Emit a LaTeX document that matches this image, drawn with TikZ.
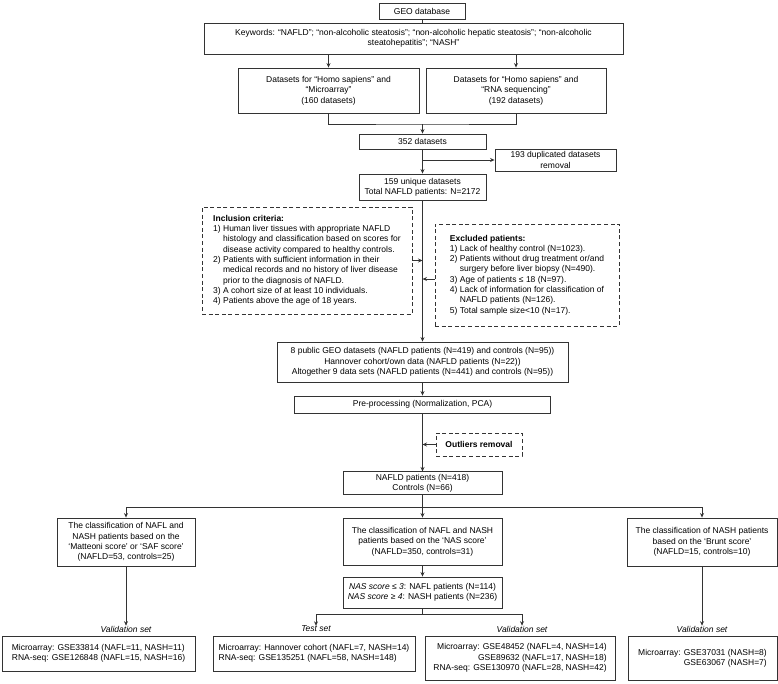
\documentclass[tikz,border=0pt]{standalone}
\usepackage{fontspec}
\setmainfont{Liberation Sans}
\usetikzlibrary{arrows.meta}
\tikzset{
    flow-box/.style = {draw=black!80, line width=0.9pt, rectangle, align=center, inner sep=2pt, font=\fontsize{8.5}{10.3}\selectfont},
    dash-box/.style = {flow-box, dash pattern=on 4pt off 2.6pt},
    flow-line/.style = {draw=black!80, line width=0.9pt},
    flow-arrow/.style = {flow-line, -{Stealth[length=4.5pt, width=4pt]}},
    set-label/.style = {font=\fontsize{8.5}{10.3}\selectfont\itshape, inner sep=0pt},
}

\begin{document}
\begin{tikzpicture}[x=1pt, y=-1pt]
\useasboundingbox (0,0) rectangle (778,683);
\node[flow-box, minimum width=86, minimum height=16] (geo) at (422,11) {GEO database};
\node[flow-box, minimum width=419, minimum height=31] (kw) at (413.5,38.5) {Keywords: “NAFLD”; “non-alcoholic steatosis”; “non-alcoholic hepatic steatosis”; “non-alcoholic\\ steatohepatitis”; “NASH”};
\node[flow-box, minimum width=181, minimum height=45] (micro) at (328.5,90.5) {Datasets for “Homo sapiens” and\\ “Microarray”\\ (160 datasets)};
\node[flow-box, minimum width=180, minimum height=45] (rna) at (516,90.5) {Datasets for “Homo sapiens” and\\ “RNA sequencing”\\ (192 datasets)};
\node[flow-box, minimum width=127, minimum height=15] (d352) at (422.5,141.5) {352 datasets};
\node[flow-box, minimum width=121, minimum height=22] (dup) at (555.5,160) {193 duplicated datasets\\ removal};
\node[flow-box, minimum width=127, minimum height=26] (uniq) at (422.5,187) {159 unique datasets\\ Total NAFLD patients: N=2172};
\node[dash-box, minimum width=210, minimum height=107] (incl) at (307,260.5) {\begin{tabular}{@{}l@{\ }l@{}}
\multicolumn{2}{@{}l@{}}{\textbf{Inclusion criteria:}}\\
1) & Human liver tissues with appropriate NAFLD\\
   & histology and classification based on scores for\\
   & disease activity compared to healthy controls.\\
2) & Patients with sufficient information in their\\
   & medical records and no history of liver disease\\
   & prior to the diagnosis of NAFLD.\\
3) & A cohort size of at least 10 individuals.\\
4) & Patients above the age of 18 years.
\end{tabular}};
\node[dash-box, minimum width=184, minimum height=102] (excl) at (527,275) {\begin{tabular}{@{}l@{\ }l@{}}
\multicolumn{2}{@{}l@{}}{\textbf{Excluded patients:}}\\
1) & Lack of healthy control (N=1023).\\
2) & Patients without drug treatment or/and\\
   & surgery before liver biopsy (N=490).\\
3) & Age of patients ≤ 18 (N=97).\\
4) & Lack of information for classification of\\
   & NAFLD patients (N=126).\\
5) & Total sample size<10 (N=17).
\end{tabular}};
\node[flow-box, minimum width=291, minimum height=40] (geo8) at (422.5,362) {8 public GEO datasets (NAFLD patients (N=419) and controls (N=95))\\ Hannover cohort/own data (NAFLD patients (N=22))\\ Altogether 9 data sets (NAFLD patients (N=441) and controls (N=95))};
\node[flow-box, minimum width=256, minimum height=17] (pre) at (422.5,404.5) {Pre-processing (Normalization, PCA)};
\node[dash-box, minimum width=86, minimum height=23] (outl) at (479,444.5) {\textbf{Outliers removal}};
\node[flow-box, minimum width=159, minimum height=22] (nafld) at (422.5,483) {NAFLD patients (N=418)\\ Controls (N=66)};
\node[flow-box, minimum width=138, minimum height=48] (clsL) at (126,542) {The classification of NAFL and\\ NASH patients based on the\\ ‘Matteoni score’ or ‘SAF score’\\ (NAFLD=53, controls=25)};
\node[flow-box, minimum width=159, minimum height=47] (clsM) at (422.5,541.5) {The classification of NAFL and NASH\\ patients based on the ‘NAS score’\\ (NAFLD=350, controls=31)};
\node[flow-box, minimum width=150, minimum height=48] (clsR) at (702,542) {The classification of NASH patients\\ based on the ‘Brunt score’\\ (NAFLD=15, controls=10)};
\node[flow-box, minimum width=159, minimum height=31] (nas) at (422.5,592.5) {\textit{NAS score ≤ 3}: NAFL patients (N=114)\\ \textit{NAS score ≥ 4}: NASH patients (N=236)};
\node[set-label] (lblL) at (126,629) {Validation set};
\node[set-label] (lblT) at (316,629) {Test set};
\node[set-label] (lblM) at (522,629) {Validation set};
\node[set-label] (lblR) at (702,629) {Validation set};
\node[flow-box, align=left, minimum width=193, minimum height=35] (valL) at (98.5,653.5) {Microarray: GSE33814 (NAFL=11, NASH=11)\\ RNA-seq: GSE126848 (NAFL=15, NASH=16)};
\node[flow-box, align=left, minimum width=202, minimum height=35] (test) at (314,653.5) {Microarray: Hannover cohort (NAFL=7, NASH=14)\\ RNA-seq: GSE135251 (NAFL=58, NASH=148)};
\node[flow-box, align=right, minimum width=190, minimum height=44] (valM) at (520,658) {Microarray: GSE48452 (NAFL=4, NASH=14)\\ GSE89632 (NAFL=17, NASH=18)\\ RNA-seq: GSE130970 (NAFL=28, NASH=42)};
\node[flow-box, align=right, minimum width=149, minimum height=44] (valR) at (702.5,658) {Microarray: GSE37031 (NASH=8)\\ GSE63067 (NASH=7)};
\coordinate (merge) at (422.5,124);
\coordinate (split) at (422.5,507);
\coordinate (split2) at (422.5,614);
\draw[flow-line] (geo.south) -- (geo.south |- kw.north);
\draw[flow-arrow] (kw.south -| micro.north) -- (micro.north);
\draw[flow-arrow] (kw.south -| rna.north) -- (rna.north);
\draw[flow-line] (micro.south) |- (merge) -| (rna.south);
\draw[flow-arrow] (merge) -- (d352.north);
\draw[flow-arrow] (d352.south) -- (uniq.north);
\draw[flow-arrow] (d352.south |- dup.west) -- (dup.west);
\draw[flow-arrow] (uniq.south) -- (geo8.north);
\draw[flow-arrow] (incl.east) -- (incl.east -| uniq.south);
\draw[flow-arrow] ([yshift=-4pt]excl.west) -- ([yshift=-4pt]excl.west -| uniq.south);
\draw[flow-arrow] (geo8.south) -- (pre.north);
\draw[flow-arrow] (pre.south) -- (nafld.north);
\draw[flow-arrow] (outl.west) -- (outl.west -| pre.south);
\draw[flow-arrow] (nafld.south) -- (clsM.north);
\draw[flow-arrow] (split) -| (clsL.north);
\draw[flow-arrow] (split) -| (clsR.north);
\draw[flow-arrow] (clsM.south) -- (nas.north);
\draw[flow-line] (nas.south) -- (split2);
\draw[flow-arrow] (split2) -| (lblT.north);
\draw[flow-arrow] (split2) -| (lblM.north);
\draw[flow-arrow] (clsL.south) -- (lblL.north);
\draw[flow-arrow] (clsR.south) -- (lblR.north);
\end{tikzpicture}
\end{document}
